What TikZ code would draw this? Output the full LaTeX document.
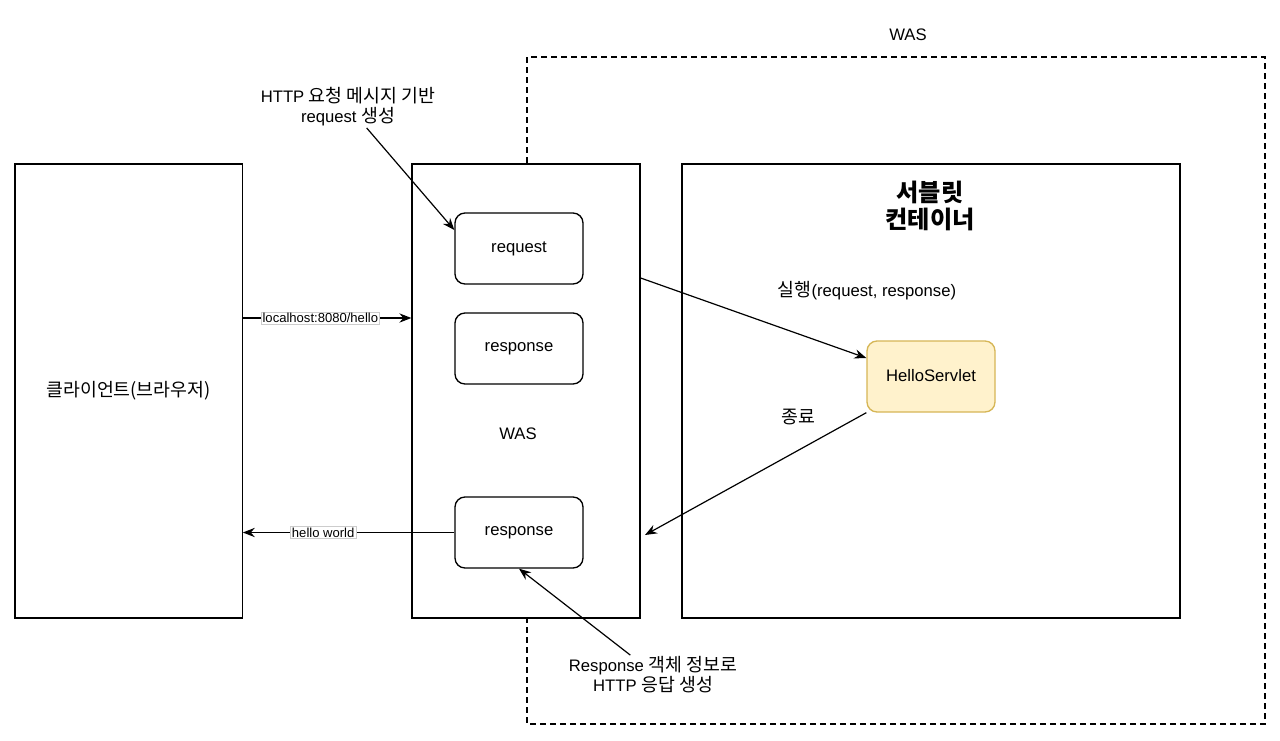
\documentclass[tikz,border=0pt]{standalone}
\usepackage{fontspec}
\setmainfont{Liberation Sans}
\newfontfamily\hangul[Scale=1.1]{Noto Sans CJK KR}
\usepackage{xcolor}
\usepackage{tikz}
\usetikzlibrary{positioning,calc,arrows.meta}

\definecolor{yellowfill}{HTML}{FFF2CC}
\definecolor{yellowline}{HTML}{D6B656}

\begin{document}
\begin{tikzpicture}[x=0.75pt,y=-0.75pt,
	font=\fontsize{12.5}{15}\selectfont,
	box/.style={draw, line width=1pt, fill=white, inner sep=0pt},
	obj/.style={box, rounded corners=7.5pt, minimum width=96pt, minimum height=53.25pt, text depth=1.5pt},
	tall/.style={box, minimum height=340.5pt},
	arr/.style={line width=0.9pt, -{Stealth[length=9pt, width=7pt, inset=3pt]}},
	tag/.style={fill=white, draw=black!20, line width=0.4pt, inner sep=1pt, font=\fontsize{9.8}{11}\selectfont},
	note/.style={align=center, inner sep=1pt}]
					\useasboundingbox (0,0) rectangle (1280,740);
					
					% WAS outline
					\draw[line width=1pt, dash pattern=on 4.5pt off 3pt] (527,57) rectangle (1265,724);
					\node (wastitle) at (908,35) {WAS};
					
					\node[tall, minimum width=170.5pt] (client) at (128.5,391) {\hangul 클라이언트(브라우저)};
					\node[tall, minimum width=171pt] (was) at (526,391) {};
					\node (waslabel) at (518,434) {WAS};
					\node[obj] (req) at (519,248.5) {request};
					\node[obj] (res) at (519,348.5) {response};
					\node[obj] (out) at (519,532.5) {response};
					
					% servlet container
					\node[tall, minimum width=373.5pt] (container) at (931,391) {};
					\node[align=center, font=\hangul\bfseries\fontsize{16.5}{20}\selectfont] (title) at (930,206) {서블릿\\컨테이너};
					\node[obj, fill=yellowfill, draw=yellowline] (servlet) at (931,376.5) {HelloServlet};
					\node (run) at (867,291) {{\hangul 실행}(request, response)};
					\node (done) at (798,417) {\hangul 종료};
					
					\node[note] (reqnote) at (348,107) {HTTP {\hangul 요청 메시지 기반}\\request {\hangul 생성}};
					\node[note] (resnote) at (653,675) {Response {\hangul 객체 정보로}\\HTTP {\hangul 응답 생성}};
					
					\draw[arr] (client.east |- 0,318) -- node[tag, pos=0.46] {localhost:8080/hello} (was.west |- 0,318);
					\draw[arr] (out.west) -- node[tag, pos=0.62] {hello world} (client.east |- out.west);
					\draw[arr] (was.east |- 0,278) -- (servlet.west |- 0,358);
					\coordinate (back) at (645,535);
					\draw[arr] (servlet.south west) -- (back);
					\draw[arr] ([xshift=14pt]reqnote.south) -- (req.west |- 0,230);
					\draw[arr] ([xshift=-17pt]resnote.north) -- (out.south);
				\end{tikzpicture}
\end{document}
